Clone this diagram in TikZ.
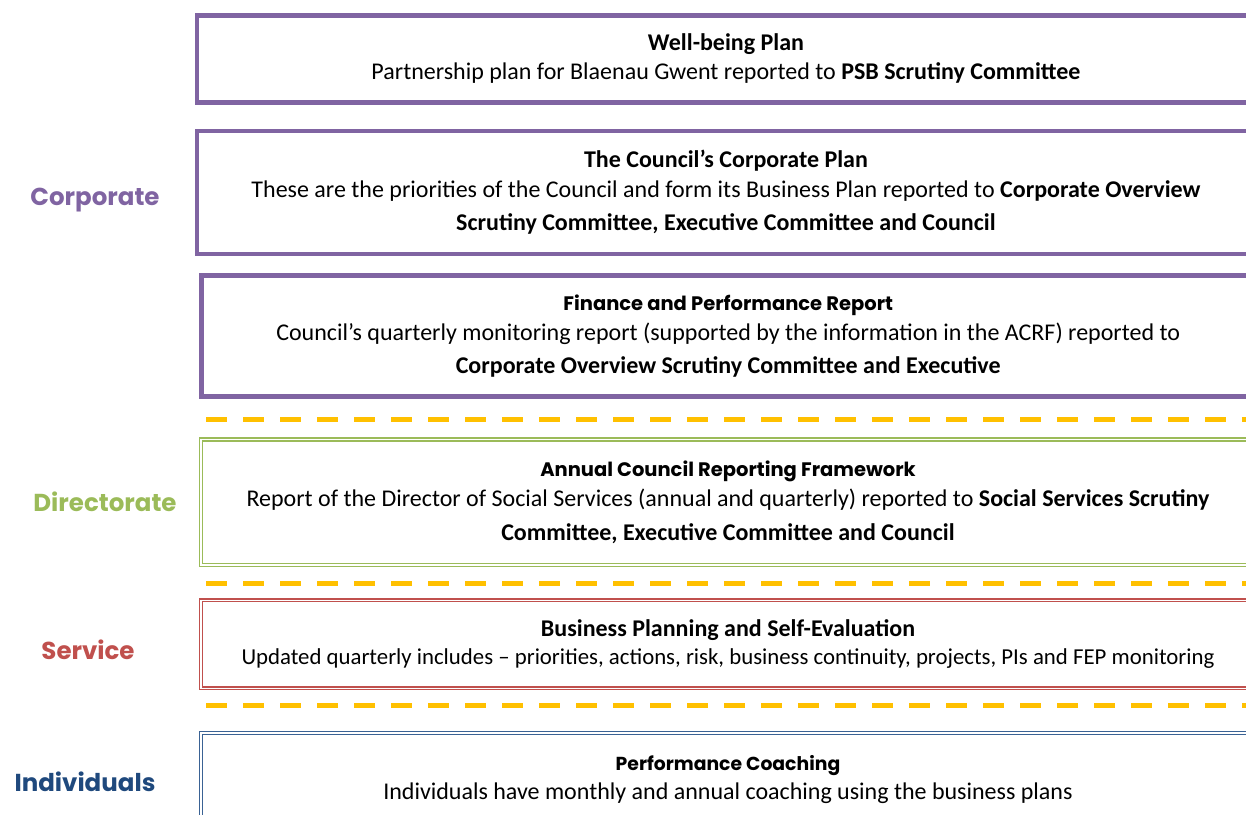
\documentclass[tikz,border=0pt]{standalone}
\usepackage{fontspec}
\setmainfont{Carlito}
\newfontfamily\twcen{Poppins}

\definecolor{corppurple}{HTML}{8064A2}
\definecolor{dirgreen}{HTML}{9BBB59}
\definecolor{servred}{HTML}{C0504D}
\definecolor{indblue}{HTML}{1F497D}
\definecolor{indline}{HTML}{3A6294}
\definecolor{dashyellow}{HTML}{FFC000}

\newcommand{\headtw}[1]{{\twcen\bfseries\fontsize{19.5}{30}\selectfont #1}}

\begin{document}
\begin{tikzpicture}[x=1pt, y=-1pt,
    every node/.style={font=\fontsize{24}{30}\selectfont},
    purplebox/.style={draw=corppurple, line width=4.5pt, align=center, inner sep=0pt},
    doublebox/.style={double=white, line width=1.4pt, double distance=1.4pt, align=center, inner sep=0pt},
    levellabel/.style={font=\twcen\bfseries\fontsize{24.5}{30}\selectfont},
    divider/.style={line width=5pt, dashyellow, dash pattern=on 21pt off 16pt}]
  \useasboundingbox (0,0) rectangle (1246,814);

  % corporate level
  \node[purplebox, minimum width=1058pt, minimum height=87pt] (wellbeing) at (726,59)
    {\textbf{Well-being Plan}\\[-1pt]
     Partnership plan for Blaenau Gwent reported to \textbf{PSB Scrutiny Committee}};
  \node[purplebox, minimum width=1058pt, minimum height=123pt] (corpplan) at (726,192.5)
    {\textbf{The Council’s Corporate Plan}\\
     These are the priorities of the Council and form its Business Plan reported to \textbf{Corporate Overview}\\[3pt]
     \textbf{Scrutiny Committee, Executive Committee and Council}};
  \node[purplebox, minimum width=1053.5pt, minimum height=121pt] (finance) at (728.25,336)
    {\headtw{Finance and Performance Report}\\
     Council’s quarterly monitoring report (supported by the information in the ACRF) reported to\\[3pt]
     \textbf{Corporate Overview Scrutiny Committee and Executive}};

  \draw[divider] (206,419.5) -- (1255,419.5);

  % directorate level
  \node[doublebox, draw=dirgreen, minimum width=1054pt, minimum height=125.5pt] (acrf) at (728,502.25)
    {\headtw{Annual Council Reporting Framework}\\
     Report of the Director of Social Services (annual and quarterly) reported to \textbf{Social Services Scrutiny}\\[4pt]
     \textbf{Committee, Executive Committee and Council}};

  \draw[divider] (206,583) -- (1255,583);

  % service level
  \node[doublebox, draw=servred, minimum width=1054pt, minimum height=88pt] (business) at (728,644.3)
    {\textbf{Business Planning and Self-Evaluation}\\[-2pt]
     {\fontsize{22.8}{30}\selectfont Updated quarterly includes -- priorities, actions, risk, business continuity, projects, PIs and FEP monitoring}};

  \draw[divider] (206,705) -- (1255,705);

  % individuals
  \node[doublebox, draw=indline, minimum width=1054pt, minimum height=93pt] (coaching) at (728,779.5)
    {{\twcen\bfseries\fontsize{18.8}{30}\selectfont Performance Coaching}\\[-1pt]
     Individuals have monthly and annual coaching using the business plans};

  % level labels
  \node[levellabel, text=corppurple] (corporate) at (95,200) {Corporate};
  \node[levellabel, text=dirgreen] (directorate) at (105,502) {Directorate};
  \node[levellabel, text=servred] (service) at (88,650) {Service};
  \node[levellabel, text=indblue] (individuals) at (85,782) {Individuals};
\end{tikzpicture}
\end{document}
